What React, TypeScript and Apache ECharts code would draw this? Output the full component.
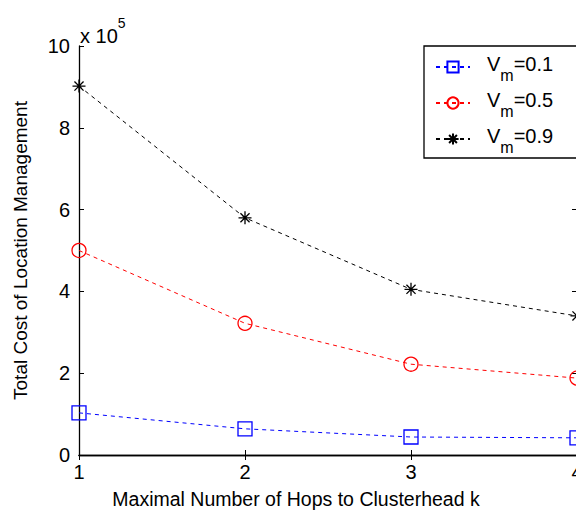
import React, { useEffect, useRef } from "react";
import * as echarts from "echarts";

const hops = [1, 2, 3, 4];
const vm01 = [1.03, 0.64, 0.44, 0.42];
const vm05 = [5.0, 3.22, 2.22, 1.88];
const vm09 = [9.02, 5.8, 4.05, 3.4];
const seriesNames = ["V_m=0.1", "V_m=0.5", "V_m=0.9"];
const yTicks = [0, 2, 4, 6, 8, 10];

const FONT = "Liberation Sans, Arial, sans-serif";
const ASTERISK =
  "path://M0,-10L0,10M-10,0L10,0M-7,-7L7,7M-7,7L7,-7";

export default function App() {
  const ref = useRef<HTMLDivElement>(null);
  useEffect(() => {
    if (!ref.current) return;
    const chart = echarts.init(ref.current, undefined, { renderer: "svg" });
    const pairs = (ys: number[]) => hops.map((h, i) => [h, ys[i]]);
    const mk = (
      name: string,
      ys: number[],
      color: string,
      symbol: string,
      size: number
    ) => ({
      name,
      type: "line",
      data: pairs(ys),
      symbol,
      symbolSize: size,
      showAllSymbol: true,
      clip: false,
      lineStyle: { color, width: 1, type: [4, 4] },
      itemStyle: { color: "none", borderColor: color, borderWidth: 1.3 },
      emphasis: { disabled: true },
      z: 3,
    });
    const axisCommon = {
      axisLine: { show: true, lineStyle: { color: "#000", width: 1.3 } },
      axisTick: { show: true, inside: true, length: 5, lineStyle: { color: "#000", width: 1 } },
      splitLine: { show: false },
    };
    chart.setOption({
      animation: false,
      backgroundColor: "#fff",
      textStyle: { fontFamily: FONT },
      grid: {
        left: 79,
        top: 46,
        right: -1,
        bottom: 58,
        containLabel: false,
        outerBoundsMode: "none",
      },
      xAxis: [
        {
          type: "value",
          min: 1,
          max: 4,
          interval: 1,
          name: "Maximal Number of Hops to Clusterhead k",
          nameLocation: "middle",
          nameGap: 34,
          nameTextStyle: {
            fontSize: 19.5,
            color: "#000",
            fontFamily: FONT,
            padding: [0, 64, 0, 0],
          },
          axisLabel: { fontSize: 20, color: "#000", margin: 7, fontFamily: FONT },
          ...axisCommon,
        },
        {
          type: "value",
          position: "top",
          min: 1,
          max: 4,
          interval: 1,
          axisLabel: { show: false },
          ...axisCommon,
        },
      ],
      yAxis: [
        {
          type: "value",
          min: yTicks[0],
          max: yTicks[yTicks.length - 1],
          interval: 2,
          name: "Total Cost of Location Management",
          nameLocation: "middle",
          nameGap: 49,
          nameTextStyle: { fontSize: 19, color: "#000", fontFamily: FONT },
          axisLabel: { fontSize: 20, color: "#000", margin: 9, fontFamily: FONT },
          ...axisCommon,
        },
        {
          type: "value",
          position: "right",
          min: 0,
          max: 10,
          interval: 2,
          axisLabel: { show: false },
          ...axisCommon,
        },
      ],
      legend: {
        orient: "vertical",
        left: 424,
        top: 46,
        padding: [5, 120, 3, 11],
        itemGap: 4,
        itemWidth: 34,
        itemHeight: 14,
        borderColor: "#000",
        borderWidth: 1.3,
        backgroundColor: "#fff",
        data: seriesNames,
        formatter: (n: string) => {
          const parts = n.split("=");
          return `{v|V}{s|m}{v|=${parts[1]}}`;
        },
        textStyle: {
          fontFamily: FONT,
          color: "#000",
          padding: [0, 0, 0, 12],
          rich: {
            v: { fontSize: 20, fontFamily: FONT, color: "#000", verticalAlign: "top", lineHeight: 27 },
            s: { fontSize: 16, fontFamily: FONT, color: "#000", padding: [16, 0, 0, 0], lineHeight: 27 },
          },
        },
      },
      graphic: [
        {
          type: "text",
          left: 80,
          top: 16,
          style: {
            text: "{a|x 10}{b|5}",
            rich: {
              a: { fontSize: 20, fontFamily: FONT, fill: "#000", padding: [10, 0, 0, 0] },
              b: { fontSize: 14, fontFamily: FONT, fill: "#000", verticalAlign: "top" },
            },
          },
        },
      ],
      series: [
        mk(seriesNames[0], vm01, "#0000ff", "rect", 14),
        mk(seriesNames[1], vm05, "#ff0000", "circle", 14),
        mk(seriesNames[2], vm09, "#000000", ASTERISK, 13),
      ],
    });
    return () => chart.dispose();
  }, []);
  return (
    <div
      ref={ref}
      style={{ position: "fixed", left: 0, top: 0, width: 576, height: 513 }}
    />
  );
}
